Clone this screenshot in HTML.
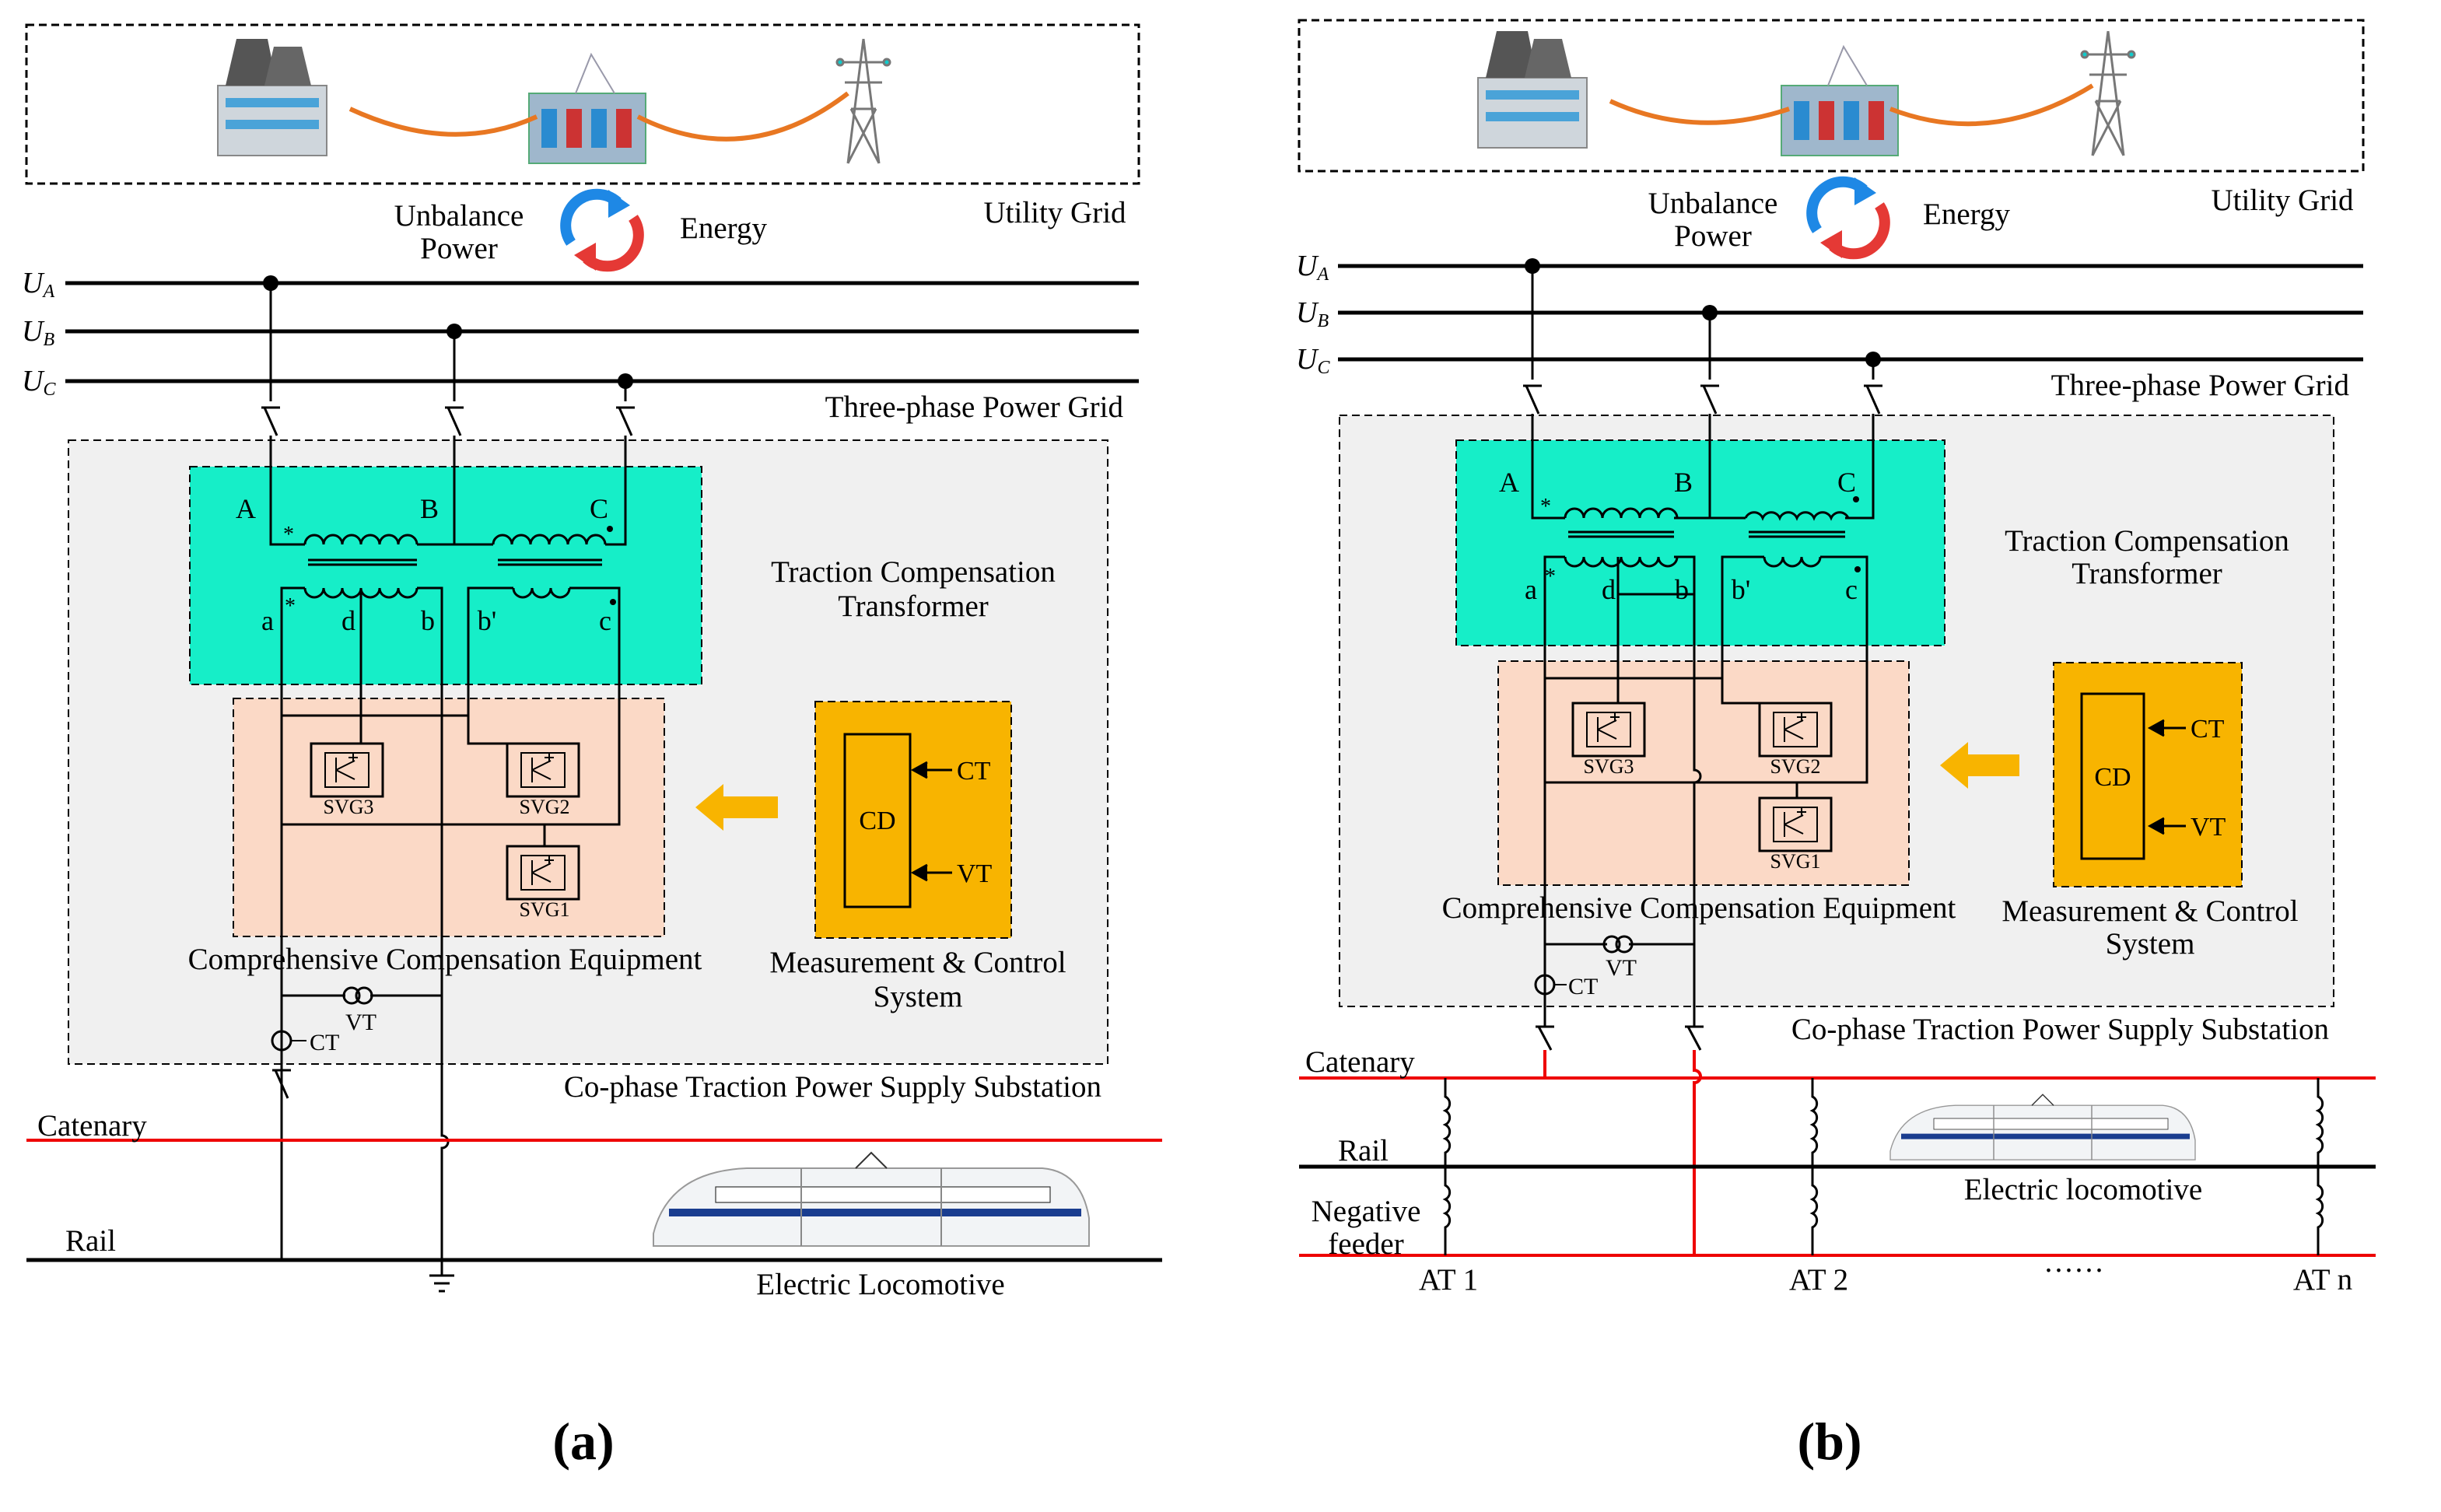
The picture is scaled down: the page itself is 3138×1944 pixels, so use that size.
<!DOCTYPE html>
<html><head><meta charset="utf-8"><style>
html,body{margin:0;padding:0;background:#fff}
svg{display:block}
text{font-family:"Liberation Serif",serif;fill:#000}
</style></head><body>
<svg width="3138" height="1944" viewBox="0 0 1569 972" xmlns="http://www.w3.org/2000/svg">
<defs>
<g id="plant">
  <rect x="0" y="30" width="70" height="45" fill="#cfd6dc" stroke="#888"/>
  <rect x="5" y="38" width="60" height="6" fill="#4aa3d8"/>
  <rect x="5" y="52" width="60" height="6" fill="#4aa3d8"/>
  <path d="M5 30 L12 0 L32 0 L38 30Z" fill="#555"/>
  <path d="M30 30 L36 5 L54 5 L60 30Z" fill="#666"/>
</g>
<g id="sub">
  <rect x="0" y="20" width="75" height="45" fill="#9fb7cc" stroke="#5a7"/>
  <rect x="8" y="30" width="10" height="25" fill="#2a8bd0"/><rect x="24" y="30" width="10" height="25" fill="#c33"/>
  <rect x="40" y="30" width="10" height="25" fill="#2a8bd0"/><rect x="56" y="30" width="10" height="25" fill="#c33"/>
  <path d="M30 20 L40 -5 L55 20" fill="none" stroke="#99a"/>
</g>
<g id="tower" fill="none" stroke="#777" stroke-width="1.5">
  <path d="M20 0 L10 80 M20 0 L30 80 M5 15 L35 15 M8 28 L32 28 M12 45 L28 45 M12 45 L30 80 M28 45 L10 80"/>
  <circle cx="5" cy="15" r="2" fill="#1cc"/><circle cx="35" cy="15" r="2" fill="#1cc"/>
</g>
<g id="swap">
  <path d="M-20 8 A20 20 0 0 1 10 -18" fill="none" stroke="#1e88e5" stroke-width="7"/>
  <path d="M4 -26 L18 -16 L4 -8Z" fill="#1e88e5"/>
  <path d="M20 -8 A20 20 0 0 1 -10 18" fill="none" stroke="#e53935" stroke-width="7"/>
  <path d="M-4 26 L-18 16 L-4 8Z" fill="#e53935"/>
</g>
<g id="svg">
  <rect x="0" y="0" width="46" height="34" fill="none" stroke="#000" stroke-width="1.5"/>
  <rect x="9" y="6" width="28" height="22" fill="none" stroke="#000"/>
  <path d="M16 9 L16 25 M16 17 L28 11 M16 17 L28 23 M24 9 L30 9 M27 6 L27 12" stroke="#000" fill="none"/>
</g>
<g id="train">
  <path d="M0 50 Q10 10 60 8 L250 8 Q275 10 280 40 L280 58 L0 58Z" fill="#f2f4f6" stroke="#999"/>
  <rect x="10" y="34" width="265" height="5" fill="#1a3d8f"/>
  <rect x="40" y="20" width="215" height="10" fill="#fff" stroke="#333" stroke-width="0.6"/>
  <line x1="95" y1="8" x2="95" y2="58" stroke="#888"/><line x1="185" y1="8" x2="185" y2="58" stroke="#888"/>
  <path d="M130 8 L140 -2 L150 8" fill="none" stroke="#333"/>
</g>
</defs>
<g font-size="19.5">
<rect x="17" y="16" width="715" height="102" fill="none" stroke="#000" stroke-dasharray="5,3" stroke-width="1.5"/>
<use href="#plant" x="140" y="25"/><use href="#sub" x="340" y="40"/><use href="#tower" x="535" y="25"/>
<path d="M225 70 Q290 100 345 75 M410 75 Q480 110 545 60" fill="none" stroke="#e87722" stroke-width="3"/>
<text x="295" y="145" text-anchor="middle">Unbalance</text>
<text x="295" y="166" text-anchor="middle">Power</text>
<use href="#swap" x="387" y="148"/>
<text x="465" y="153" text-anchor="middle">Energy</text>
<text x="678" y="143" text-anchor="middle">Utility Grid</text>
<g stroke="#000" stroke-width="2.5"><line x1="42" y1="182" x2="732" y2="182"/><line x1="42" y1="213" x2="732" y2="213"/><line x1="42" y1="245" x2="732" y2="245"/></g>
<text x="14" y="188" font-size="19" font-style="italic">U<tspan font-size="12" dy="3">A</tspan></text>
<text x="14" y="219" font-size="19" font-style="italic">U<tspan font-size="12" dy="3">B</tspan></text>
<text x="14" y="251" font-size="19" font-style="italic">U<tspan font-size="12" dy="3">C</tspan></text>
<text x="722" y="268" text-anchor="end">Three-phase Power Grid</text>
<rect x="44" y="283" width="668" height="401" fill="#f0f0f0" stroke="#000" stroke-dasharray="5,3"/>
<rect x="122" y="300" width="329" height="140" fill="#16eec8" stroke="#000" stroke-dasharray="5,3"/>
<rect x="150" y="449" width="277" height="153" fill="#fbd9c6" stroke="#000" stroke-dasharray="5,3"/>
<rect x="524" y="451" width="126" height="152" fill="#f8b400" stroke="#000" stroke-dasharray="5,3"/>
<rect x="543" y="472" width="42" height="111" fill="none" stroke="#000" stroke-width="1.5"/>
<text x="564" y="533" font-size="17" text-anchor="middle">CD</text>
<path d="M612 495 L590 495 M596 490 L587 495 L596 500 M612 561 L590 561 M596 556 L587 561 L596 566" stroke="#000" fill="#000" stroke-width="1.5"/>
<text x="615" y="501" font-size="17">CT</text><text x="615" y="567" font-size="17">VT</text>
<path d="M500 512 L465 512 L465 504 L447 519 L465 534 L465 526 L500 526Z" fill="#f8b400"/>
<circle cx="174" cy="182" r="5"/><circle cx="292" cy="213" r="5"/><circle cx="402" cy="245" r="5"/>
<g stroke="#000" fill="none" stroke-width="1.5">
<path d="M174 182 V258 M168 262 L180 262 M170 262 L178 280 M174 280 V350 H196"/>
<path d="M292 213 V258 M286 262 L298 262 M288 262 L296 280 M292 280 V350 H268 M292 350 H317"/>
<path d="M402 245 V258 M396 262 L408 262 M398 262 L406 280 M402 280 V350 H389"/>
<path d="M196 350 a6 6 0 0 1 12 0 a6 6 0 0 1 12 0 a6 6 0 0 1 12 0 a6 6 0 0 1 12 0 a6 6 0 0 1 12 0 a6 6 0 0 1 12 0"/>
<path d="M317 350 a6 6 0 0 1 12 0 a6 6 0 0 1 12 0 a6 6 0 0 1 12 0 a6 6 0 0 1 12 0 a6 6 0 0 1 12 0 a6 6 0 0 1 12 0"/>
<path d="M198 360 H268 M198 363 H268 M320 360 H387 M320 363 H387"/>
<path d="M196 378 a6 6 0 0 0 12 0 a6 6 0 0 0 12 0 a6 6 0 0 0 12 0 a6 6 0 0 0 12 0 a6 6 0 0 0 12 0 a6 6 0 0 0 12 0"/>
<path d="M330 378 a6 6 0 0 0 12 0 a6 6 0 0 0 12 0 a6 6 0 0 0 12 0"/>
<path d="M196 378 H181 V810 M268 378 H284 V730 a4 4 0 0 1 0 8 V820 M232 378 V478 M330 378 H301 V460 H181 M366 378 H398 V530 H350 M301 460 V478 H326"/>
<path d="M181 530 H284 M284 530 H350 V544"/>
<path d="M181 640 H222 M238 640 H284"/>
<path d="M181 660 V680 M175 688 L187 688 M177 688 L185 706 M181 706 V733"/>
<path d="M276 820 H292 M279 825 H289 M282 830 H286"/>
</g>
<circle cx="226" cy="640" r="5" fill="none" stroke="#000" stroke-width="1.5"/><circle cx="234" cy="640" r="5" fill="none" stroke="#000" stroke-width="1.5"/>
<circle cx="181" cy="669" r="6" fill="none" stroke="#000" stroke-width="1.5"/>
<path d="M187 669 H197" stroke="#000"/>
<text x="199" y="675" font-size="15">CT</text><text x="222" y="662" font-size="15">VT</text>
<use href="#svg" x="200" y="478"/><use href="#svg" x="326" y="478"/><use href="#svg" x="326" y="544"/>
<text x="224" y="523" font-size="13" text-anchor="middle">SVG3</text>
<text x="350" y="523" font-size="13" text-anchor="middle">SVG2</text>
<text x="350" y="589" font-size="13" text-anchor="middle">SVG1</text>
<text x="158" y="333" font-size="18" text-anchor="middle">A</text><text x="276" y="333" font-size="18" text-anchor="middle">B</text><text x="385" y="333" font-size="18" text-anchor="middle">C</text>
<text x="172" y="405" font-size="18" text-anchor="middle">a</text><text x="224" y="405" font-size="18" text-anchor="middle">d</text><text x="275" y="405" font-size="18" text-anchor="middle">b</text><text x="313" y="405" font-size="18" text-anchor="middle">b'</text><text x="389" y="405" font-size="18" text-anchor="middle">c</text>
<text x="182" y="348" font-size="14">*</text><text x="183" y="394" font-size="14">*</text>
<circle cx="392" cy="340" r="2"/><circle cx="394" cy="387" r="2"/>
<text x="587" y="374" text-anchor="middle">Traction Compensation</text>
<text x="587" y="396" text-anchor="middle">Transformer</text>
<text x="286" y="623" text-anchor="middle">Comprehensive Compensation Equipment</text>
<text x="590" y="625" text-anchor="middle">Measurement &amp; Control</text>
<text x="590" y="647" text-anchor="middle">System</text>
<text x="708" y="705" text-anchor="end">Co-phase Traction Power Supply Substation</text>
<line x1="17" y1="733" x2="747" y2="733" stroke="#e00" stroke-width="2"/>
<line x1="17" y1="810" x2="747" y2="810" stroke="#000" stroke-width="2.5"/>
<text x="24" y="730">Catenary</text><text x="42" y="804">Rail</text>
<use href="#train" x="420" y="743"/>
<text x="566" y="832" text-anchor="middle">Electric Locomotive</text>
<text x="375" y="938" font-size="34" font-weight="bold" text-anchor="middle">(a)</text>

<rect x="835" y="13" width="684" height="97" fill="none" stroke="#000" stroke-dasharray="5,3" stroke-width="1.5"/>
<use href="#plant" x="950" y="20"/><use href="#sub" x="1145" y="35"/><use href="#tower" x="1335" y="20"/>
<path d="M1035 65 Q1090 90 1150 70 M1215 70 Q1280 95 1345 55" fill="none" stroke="#e87722" stroke-width="3"/>
<text x="1101" y="137" text-anchor="middle">Unbalance</text>
<text x="1101" y="158" text-anchor="middle">Power</text>
<use href="#swap" x="1188" y="140"/>
<text x="1264" y="144" text-anchor="middle">Energy</text>
<text x="1467" y="135" text-anchor="middle">Utility Grid</text>
<g stroke="#000" stroke-width="2.5"><line x1="860" y1="171" x2="1519" y2="171"/><line x1="860" y1="201" x2="1519" y2="201"/><line x1="860" y1="231" x2="1519" y2="231"/></g>
<text x="833" y="177" font-size="19" font-style="italic">U<tspan font-size="12" dy="3">A</tspan></text>
<text x="833" y="207" font-size="19" font-style="italic">U<tspan font-size="12" dy="3">B</tspan></text>
<text x="833" y="237" font-size="19" font-style="italic">U<tspan font-size="12" dy="3">C</tspan></text>
<text x="1510" y="254" text-anchor="end">Three-phase Power Grid</text>
<rect x="861" y="267" width="639" height="380" fill="#f0f0f0" stroke="#000" stroke-dasharray="5,3"/>
<rect x="936" y="283" width="314" height="132" fill="#16eec8" stroke="#000" stroke-dasharray="5,3"/>
<rect x="963" y="425" width="264" height="144" fill="#fbd9c6" stroke="#000" stroke-dasharray="5,3"/>
<rect x="1320" y="426" width="121" height="144" fill="#f8b400" stroke="#000" stroke-dasharray="5,3"/>
<rect x="1338" y="446" width="40" height="106" fill="none" stroke="#000" stroke-width="1.5"/>
<text x="1358" y="505" font-size="17" text-anchor="middle">CD</text>
<path d="M1405 468 L1385 468 M1391 463 L1382 468 L1391 473 M1405 531 L1385 531 M1391 526 L1382 531 L1391 536" stroke="#000" fill="#000" stroke-width="1.5"/>
<text x="1408" y="474" font-size="17">CT</text><text x="1408" y="537" font-size="17">VT</text>
<path d="M1298 485 L1265 485 L1265 477 L1247 492 L1265 507 L1265 499 L1298 499Z" fill="#f8b400"/>
<circle cx="985" cy="171" r="5"/><circle cx="1099" cy="201" r="5"/><circle cx="1204" cy="231" r="5"/>
<g stroke="#000" fill="none" stroke-width="1.5">
<path d="M985 171 V244 M979 248 L991 248 M981 248 L989 266 M985 266 V333 H1006"/>
<path d="M1099 201 V244 M1093 248 L1105 248 M1095 248 L1103 266 M1099 266 V333 H1076 M1099 333 H1122"/>
<path d="M1204 231 V244 M1198 248 L1210 248 M1200 248 L1208 266 M1204 266 V333 H1186"/>
<path d="M1006 333 a6 6 0 0 1 12 0 a6 6 0 0 1 12 0 a6 6 0 0 1 12 0 a6 6 0 0 1 12 0 a6 6 0 0 1 12 0 a6 6 0 0 1 12 0"/>
<path d="M1122 333 a6 6 0 0 1 11 0 a6 6 0 0 1 11 0 a6 6 0 0 1 11 0 a6 6 0 0 1 11 0 a6 6 0 0 1 11 0 a6 6 0 0 1 11 0"/>
<path d="M1008 342 H1076 M1008 345 H1076 M1124 342 H1186 M1124 345 H1186"/>
<path d="M1006 358 a6 6 0 0 0 12 0 a6 6 0 0 0 12 0 a6 6 0 0 0 12 0 a6 6 0 0 0 12 0 a6 6 0 0 0 12 0 a6 6 0 0 0 12 0"/>
<path d="M1134 358 a6 6 0 0 0 12 0 a6 6 0 0 0 12 0 a6 6 0 0 0 12 0"/>
<path d="M1006 358 H993 V660 M1076 358 H1089 V382 H1040 V358 M1040 358 V452 M1134 358 H1107 V436 H993 M1107 436 V452 H1133 M1170 358 H1200 V503 H1155 V513"/>
<path d="M1089 382 V495 a4 4 0 0 1 0 8 V655"/>
<path d="M993 503 H1155"/>
<path d="M993 607 H1033 M1047 607 H1089"/>
<path d="M993 640 V655 M987 660 L999 660 M989 660 L997 675 M993 675 V693"/>
<path d="M1089 655 V660 M1083 660 L1095 660 M1085 660 L1093 675"/>
</g>
<circle cx="1036" cy="607" r="5" fill="none" stroke="#000" stroke-width="1.5"/><circle cx="1044" cy="607" r="5" fill="none" stroke="#000" stroke-width="1.5"/>
<circle cx="993" cy="633" r="6" fill="none" stroke="#000" stroke-width="1.5"/>
<path d="M999 633 H1007" stroke="#000"/>
<text x="1008" y="639" font-size="15">CT</text><text x="1032" y="627" font-size="15">VT</text>
<use href="#svg" x="1011" y="452"/><use href="#svg" x="1131" y="452"/><use href="#svg" x="1131" y="513"/>
<text x="1034" y="497" font-size="13" text-anchor="middle">SVG3</text>
<text x="1154" y="497" font-size="13" text-anchor="middle">SVG2</text>
<text x="1154" y="558" font-size="13" text-anchor="middle">SVG1</text>
<text x="970" y="316" font-size="18" text-anchor="middle">A</text><text x="1082" y="316" font-size="18" text-anchor="middle">B</text><text x="1187" y="316" font-size="18" text-anchor="middle">C</text>
<text x="984" y="385" font-size="18" text-anchor="middle">a</text><text x="1034" y="385" font-size="18" text-anchor="middle">d</text><text x="1081" y="385" font-size="18" text-anchor="middle">b</text><text x="1119" y="385" font-size="18" text-anchor="middle">b'</text><text x="1190" y="385" font-size="18" text-anchor="middle">c</text>
<text x="990" y="330" font-size="14">*</text><text x="993" y="375" font-size="14">*</text>
<circle cx="1193" cy="321" r="2"/><circle cx="1194" cy="366" r="2"/>
<text x="1380" y="354" text-anchor="middle">Traction Compensation</text>
<text x="1380" y="375" text-anchor="middle">Transformer</text>
<text x="1092" y="590" text-anchor="middle">Comprehensive Compensation Equipment</text>
<text x="1382" y="592" text-anchor="middle">Measurement &amp; Control</text>
<text x="1382" y="613" text-anchor="middle">System</text>
<text x="1497" y="668" text-anchor="end">Co-phase Traction Power Supply Substation</text>
<path d="M993 675 V693 M1089 675 V688 a4 4 0 0 1 0 8 V807" stroke="#e00" stroke-width="2" fill="none"/>
<line x1="835" y1="693" x2="1527" y2="693" stroke="#e00" stroke-width="2"/>
<line x1="835" y1="750" x2="1527" y2="750" stroke="#000" stroke-width="2.5"/>
<line x1="835" y1="807" x2="1527" y2="807" stroke="#e00" stroke-width="2"/>
<g stroke="#000" fill="none" stroke-width="1.5">
<path id="at" d="M929 693 V705 a5 5 0 0 1 0 9 a5 5 0 0 1 0 9 a5 5 0 0 1 0 9 a5 5 0 0 1 0 9 V762 a5 5 0 0 1 0 9 a5 5 0 0 1 0 9 a5 5 0 0 1 0 9 V807"/>
<use href="#at" x="236"/><use href="#at" x="561"/>
</g>
<text x="839" y="689">Catenary</text>
<text x="860" y="746">Rail</text>
<text x="878" y="785" text-anchor="middle">Negative</text>
<text x="878" y="806" text-anchor="middle">feeder</text>
<use href="#train" transform="translate(1215,705) scale(0.7)"/>
<text x="1339" y="771" text-anchor="middle">Electric locomotive</text>
<text x="931" y="829" text-anchor="middle">AT 1</text>
<text x="1169" y="829" text-anchor="middle">AT 2</text>
<text x="1333" y="823" text-anchor="middle">······</text>
<text x="1493" y="829" text-anchor="middle">AT n</text>
<text x="1176" y="938" font-size="34" font-weight="bold" text-anchor="middle">(b)</text>
</g>
</svg>
</body></html>
